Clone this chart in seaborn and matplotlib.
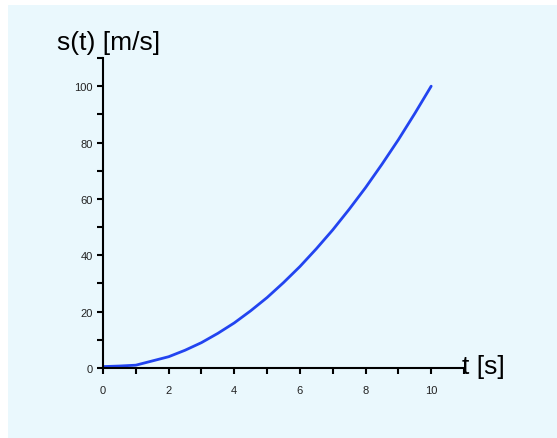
import matplotlib
matplotlib.use("Agg")
import matplotlib.pyplot as plt
import seaborn as sns
import pandas as pd
from matplotlib.patches import Rectangle
from matplotlib.ticker import MultipleLocator

t_values = [0, 0.5, 1, 1.5, 2, 2.5, 3, 3.5, 4, 4.5, 5, 5.5, 6, 6.5, 7, 7.5, 8, 8.5, 9, 9.5, 10]
s_values = [0.5, 0.7, 1.0, 2.5, 4.0, 6.3, 9.0, 12.3, 16.0, 20.3, 25.0, 30.3, 36.0, 42.3, 49.0, 56.3, 64.0, 72.3, 81.0, 90.3, 100.0]
x_label = "t [s]"
y_label = "s(t) [m/s]"

df = pd.DataFrame({"t": t_values, "s": s_values})

sns.set_style("ticks")
plt.rcParams['font.family'] = ['Liberation Sans', 'DejaVu Sans']

bg = "#eaf8fd"
fig = plt.figure(figsize=(5.57, 4.39), dpi=100)
fig.patch.set_facecolor("white")
fig.patches.append(Rectangle((8 / 557, 0), 1 - 8 / 557, 1 - 6 / 439,
                             transform=fig.transFigure, facecolor=bg,
                             edgecolor="none", zorder=-5))

ax = fig.add_axes([103 / 557, 70 / 439, 361 / 557, 310 / 439])
ax.set_zorder(2)
ax.set_facecolor("none")
sns.lineplot(data=df, x="t", y="s", ax=ax, color="#2244f0", linewidth=2.0)

ax.set_xlim(0, 11)
ax.set_ylim(0, 110)
ax.xaxis.set_major_locator(MultipleLocator(2))
ax.xaxis.set_minor_locator(MultipleLocator(1))
ax.yaxis.set_major_locator(MultipleLocator(20))
ax.yaxis.set_minor_locator(MultipleLocator(10))
ax.tick_params(which="both", direction="out", color="black", width=1.5, labelsize=8, labelcolor="#222222")
ax.tick_params(which="major", length=4)
ax.tick_params(which="minor", length=4)
ax.tick_params(axis="x", pad=8)
ax.set_xlabel("")
ax.set_ylabel("")
for side in ["top", "right"]:
    ax.spines[side].set_visible(False)
for side in ["left", "bottom"]:
    ax.spines[side].set_linewidth(1.5)
    ax.spines[side].set_color("black")

fig.text(57 / 557, 1 - 43 / 439, y_label, fontsize=19, ha="left", va="center", color="black")
fig.text(462 / 557, 1 - 367 / 439, x_label, fontsize=19, ha="left", va="center", color="black")

fig.savefig("out.png", dpi=100)
